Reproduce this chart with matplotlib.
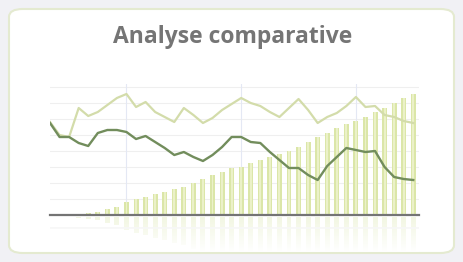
import matplotlib
matplotlib.use("Agg")
import matplotlib.pyplot as plt
import numpy as np
from matplotlib.patches import FancyBboxPatch

title = "Analyse comparative"
positions = list(range(39))
light_line = [93, 80, 78, 107, 99, 103, 110, 117, 121, 108, 113, 103, 98, 93, 107, 100, 92, 97, 105, 111,
              117, 112, 109, 103, 98, 107, 116, 105, 92, 98, 102, 109, 118, 108, 109, 100, 98, 94, 92]
dark_line = [92, 78, 78, 72, 69, 82, 85, 85, 83, 76, 79, 73, 67, 60, 63, 58, 54, 60, 68, 78,
             78, 73, 72, 63, 55, 47, 47, 40, 35, 49, 58, 67, 65, 63, 64, 48, 38, 36, 35]
bar_positions = list(range(3, 39))
bar_values = [1, 2, 3, 6, 8, 13, 16, 18, 21, 23, 26, 28, 32, 36, 40, 43, 47, 48, 52, 55,
              58, 61, 64, 68, 73, 78, 82, 87, 91, 94, 98, 103, 107, 112, 117, 121]
vgrid = [8, 20, 32]
hgrid = [16, 32, 48, 64, 80, 96, 112, 128]

W, H = 463, 262
fig = plt.figure(figsize=(W / 100, H / 100), dpi=100)
fig.patch.set_facecolor("#f1f1f5")

# card
card = FancyBboxPatch((9 / W, 9 / H), (454 - 9) / W, (253 - 9) / H,
                      boxstyle="round,pad=0,rounding_size=0.03", transform=fig.transFigure,
                      facecolor="white", edgecolor="#e4ead0", linewidth=1.5, zorder=-5)
fig.patches.append(card)

fig.text(233 / W, 1 - 37 / H, title, ha="center", va="center", fontsize=16.5,
         fontweight="bold", color="#757575", family=["Open Sans", "DejaVu Sans"])

ax_l, ax_r = 50, 419
ax_t, ax_b = 84, 215
ax = fig.add_axes([ax_l / W, 1 - ax_b / H, (ax_r - ax_l) / W, (ax_b - ax_t) / H])
ax.set_facecolor("none")
xlim = (0, 38.6)
ax.set_xlim(*xlim)
ax.set_ylim(0, 131)
for y in hgrid:
    ax.axhline(y, color="#efefef", lw=0.8, zorder=0)
for x in vgrid:
    ax.axvline(x, color="#e4e8f4", lw=0.8, zorder=0)
ax.bar(bar_positions, bar_values, width=0.52, color="#dbe6a8", zorder=1)
ax.bar(bar_positions, bar_values, width=0.2, color="#ebf1c8", zorder=1.5)
ax.plot(positions, light_line, color="#d3dcaa", lw=1.6, zorder=3)
ax.plot(positions, dark_line, color="#728d5c", lw=1.7, zorder=3)
ax.axhline(0, color="#747474", lw=1.6, zorder=4, clip_on=False)
for s in ax.spines.values():
    s.set_visible(False)
ax.set_xticks([])
ax.set_yticks([])

# reflection
r_t, r_b = 217, 252
rax = fig.add_axes([ax_l / W, 1 - r_b / H, (ax_r - ax_l) / W, (r_b - r_t) / H])
rax.set_facecolor("none")
rax.bar(bar_positions, bar_values, width=0.52, color="#e6eec6", zorder=1)
rax.axhline(11, color="#e8e8e8", lw=1.2, zorder=2)
rgba = np.ones((64, 1, 4))
rgba[..., 3] = np.linspace(0.5, 1.0, 64)[:, None]
rax.imshow(rgba, extent=(xlim[0], xlim[1], 35, 0), aspect="auto", zorder=3, origin="upper")
rax.set_xlim(*xlim)
rax.set_ylim(35, 0)
for s in rax.spines.values():
    s.set_visible(False)
rax.set_xticks([])
rax.set_yticks([])

fig.savefig("out.png", dpi=100, facecolor=fig.get_facecolor())
